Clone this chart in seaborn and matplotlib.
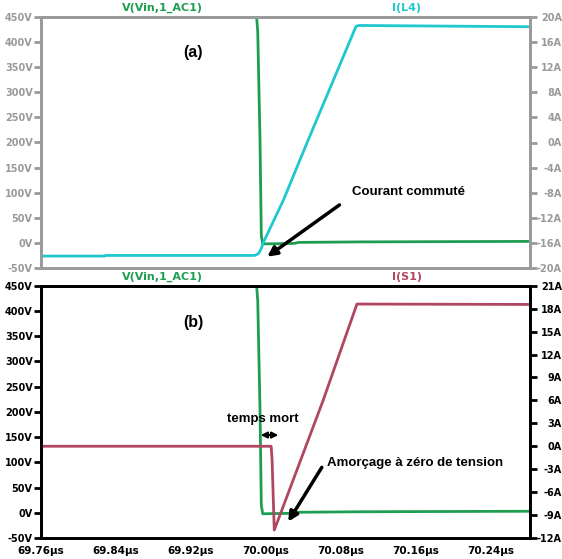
import seaborn as sns
import matplotlib.pyplot as plt
from matplotlib import font_manager

# temps en µs
t_v = [69.76, 69.9900, 69.9912, 69.9936, 69.9950, 69.9965, 70.03, 70.035, 70.10, 70.28]
v_in = [450, 450, 420, 205, 15, -2, -1, 1, 2, 3]          # V(Vin,1_AC1)

t_l4 = [69.76, 69.828, 69.829, 69.988, 69.992, 69.995, 69.997, 70.0185, 70.045, 70.096, 70.099, 70.28]
i_l4 = [-18.1, -18.1, -18.0, -18.0, -17.7, -16.9, -16.0, -9.2, 0.4, 18.5, 18.65, 18.45]   # I(L4)

t_s1 = [69.76, 70.0055, 70.0065, 70.0088, 70.0149, 70.0611, 70.097, 70.28]
i_s1 = [0.0, 0.0, -1.8, -10.96, -9.0, 6.05, 18.6, 18.55]  # I(S1)

x_ticks = [69.76, 69.84, 69.92, 70.00, 70.08, 70.16, 70.24]
v_ticks = list(range(-50, 451, 50))
a_ticks_top = list(range(-20, 21, 4))
a_ticks_bot = list(range(-12, 22, 3))

GREEN = '#1f9e52'
CYAN = '#1fc8cf'
RED = '#b04660'
GREY = '#9a9a9a'

sns.set_style('white')
plt.rcParams['font.family'] = ['DejaVu Sans']

# police étroite pour les annotations si elle existe
installed = {f.name for f in font_manager.fontManager.ttflist}
narrow = [f for f in ['Liberation Sans Narrow', 'DejaVu Sans Condensed'] if f in installed]
if narrow:
    label_font = [narrow[0], 'DejaVu Sans']
    ann_size = 11
else:
    label_font = ['Liberation Sans', 'DejaVu Sans']
    ann_size = 9.5

fig = plt.figure(figsize=(5.62, 5.59), dpi=100)
ax1 = fig.add_axes([41/562, 1-268/559, 489/562, 251/559])
ax2 = fig.add_axes([41/562, 1-538/559, 489/562, 252.3/559])
ax1r = ax1.twinx()
ax2r = ax2.twinx()

xmin, xmax = 69.76, 69.76 + 489/75*0.08

def style(ax, axr, col, a_ticks, show_x):
    ax.set_xlim(xmin, xmax)
    ax.set_ylim(-50, 450)
    axr.set_ylim(a_ticks[0], a_ticks[-1])
    ax.set_yticks(v_ticks)
    ax.set_yticklabels([f'{v}V' for v in v_ticks])
    axr.set_yticks(a_ticks)
    axr.set_yticklabels([f'{a}A' for a in a_ticks])
    for a in (ax, axr):
        for s in a.spines.values():
            s.set_color(col)
            s.set_linewidth(2)
        a.tick_params(axis='y', direction='out', length=5, width=2, color=col,
                      labelcolor=col, labelsize=7, pad=1)
        for lab in a.get_yticklabels():
            lab.set_fontweight('bold')
    # étiquettes de droite alignées à droite
    axr.tick_params(axis='y', pad=18)
    for lab in axr.get_yticklabels():
        lab.set_ha('right')
    ax.set_xticks(x_ticks)
    if show_x:
        ax.set_xticklabels([f'{x:.2f}µs' for x in x_ticks])
        ax.tick_params(axis='x', direction='out', length=5, width=2, color=col,
                       labelcolor=col, labelsize=7.5, pad=1)
        for lab in ax.get_xticklabels():
            lab.set_fontweight('bold')
    else:
        ax.tick_params(axis='x', length=0, labelbottom=False)
    ax.set_xlabel('')
    ax.set_ylabel('')
    axr.set_ylabel('')

# panneau (a)
sns.lineplot(x=t_v, y=v_in, ax=ax1, color=GREEN, linewidth=2, sort=False, estimator=None)
sns.lineplot(x=t_l4, y=i_l4, ax=ax1r, color=CYAN, linewidth=2, sort=False, estimator=None)
style(ax1, ax1r, GREY, a_ticks_top, False)

# panneau (b)
sns.lineplot(x=t_v, y=v_in, ax=ax2, color=GREEN, linewidth=2, sort=False, estimator=None)
sns.lineplot(x=t_s1, y=i_s1, ax=ax2r, color=RED, linewidth=2, sort=False, estimator=None)
style(ax2, ax2r, 'black', a_ticks_bot, True)

# en-tetes des traces
hdr = dict(fontsize=8, fontweight='bold', ha='center', va='center')
fig.text(162/562, 1-8/559, 'V(Vin,1_AC1)', color=GREEN, **hdr)
fig.text(407/562, 1-8/559, 'I(L4)', color=CYAN, **hdr)
fig.text(162/562, 1-277/559, 'V(Vin,1_AC1)', color=GREEN, **hdr)
fig.text(407/562, 1-277/559, 'I(S1)', color=RED, **hdr)

ann = dict(fontweight='bold', family=label_font, color='black')
ax1.text(69.922, 380, '(a)', ha='center', va='center', fontsize=11.5, **ann)
ax2.text(69.922, 377, '(b)', ha='center', va='center', fontsize=11.5, **ann)

ax1.annotate('', xy=(69.9989, -30.7), xytext=(70.0808, 78.9),
             arrowprops=dict(arrowstyle='-|>', color='black', lw=2.5, mutation_scale=14))
ax1.text(70.0914, 101, 'Courant commuté', ha='left', va='center', fontsize=ann_size, **ann)

ax2.text(69.9968, 185, 'temps mort', ha='center', va='center', fontsize=ann_size, **ann)
ax2.annotate('', xy=(70.0131, 154), xytext=(69.9944, 154),
             arrowprops=dict(arrowstyle='<|-|>', color='black', lw=1.5, mutation_scale=9,
                             shrinkA=0, shrinkB=0))

ax2.annotate('', xy=(70.0221, -22.3), xytext=(70.0611, 94.7),
             arrowprops=dict(arrowstyle='-|>', color='black', lw=2.5, mutation_scale=14))
ax2.text(70.0648, 99, 'Amorçage à zéro de tension', ha='left', va='center', fontsize=ann_size, **ann)

fig.savefig('out.png', dpi=100)
